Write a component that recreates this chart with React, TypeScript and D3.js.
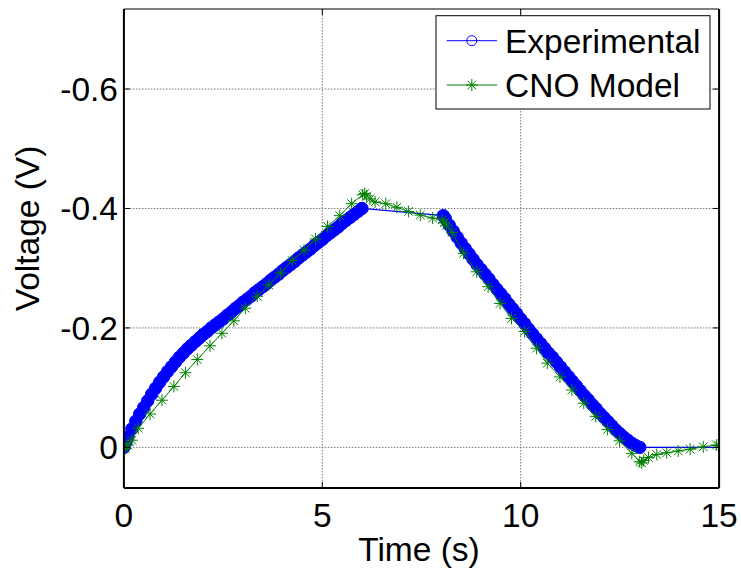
import React from "react";
import * as d3 from "d3";

// ---- Data ----
const expTime = [
  0, 0.05, 0.1, 0.2, 0.3, 0.4, 0.5, 0.6, 0.7, 0.8, 0.9, 1.0,
  1.1, 1.2, 1.3, 1.4, 1.5, 1.6, 1.7, 1.8, 1.9, 2.0,
  2.1, 2.2, 2.3, 2.4, 2.5, 2.6, 2.7, 2.8, 2.9, 3.0,
  3.1, 3.2, 3.3, 3.4, 3.5, 3.6, 3.7, 3.8, 3.9, 4.0,
  4.1, 4.2, 4.3, 4.4, 4.5, 4.6, 4.7, 4.8, 4.9, 5.0,
  5.1, 5.2, 5.3, 5.4, 5.5, 5.6, 5.7, 5.8, 5.9, 6.0,
  8.05, 8.1, 8.2, 8.3, 8.4, 8.5, 8.6, 8.7, 8.8, 8.9, 9.0,
  9.1, 9.2, 9.3, 9.4, 9.5, 9.6, 9.7, 9.8, 9.9, 10.0,
  10.1, 10.2, 10.3, 10.4, 10.5, 10.6, 10.7, 10.8, 10.9, 11.0,
  11.1, 11.2, 11.3, 11.4, 11.5, 11.6, 11.7, 11.8, 11.9, 12.0,
  12.1, 12.2, 12.3, 12.4, 12.5, 12.6, 12.7, 12.8, 12.9, 13.0,
  15.2,
];
const expVoltage = [
  0, -0.009, -0.017, -0.031, -0.044, -0.056, -0.067, -0.078, -0.089, -0.099, -0.109, -0.118,
  -0.127, -0.135, -0.143, -0.151, -0.158, -0.165, -0.171, -0.177, -0.183, -0.189,
  -0.194, -0.2, -0.205, -0.21, -0.215, -0.221, -0.226, -0.232, -0.237, -0.243,
  -0.248, -0.253, -0.259, -0.264, -0.269, -0.274, -0.28, -0.285, -0.29, -0.296,
  -0.301, -0.306, -0.311, -0.317, -0.322, -0.327, -0.332, -0.338, -0.343, -0.348,
  -0.354, -0.359, -0.364, -0.369, -0.375, -0.38, -0.385, -0.39, -0.395, -0.4,
  -0.388, -0.383, -0.372, -0.362, -0.352, -0.342, -0.333, -0.324, -0.315, -0.306, -0.298,
  -0.29, -0.282, -0.273, -0.265, -0.257, -0.249, -0.24, -0.232, -0.224, -0.215,
  -0.207, -0.198, -0.19, -0.182, -0.174, -0.166, -0.158, -0.151, -0.143, -0.135,
  -0.127, -0.119, -0.111, -0.103, -0.095, -0.087, -0.08, -0.072, -0.065, -0.057,
  -0.05, -0.043, -0.036, -0.029, -0.023, -0.017, -0.012, -0.007, -0.003, 0.0,
  0.0,
];

const modelTime = [
  0, 0.03, 0.1, 0.2, 0.36, 0.66, 0.96, 1.26, 1.55, 1.85, 2.17, 2.47, 2.77, 3.06,
  3.36, 3.65, 3.95, 4.24, 4.54, 4.83, 5.13, 5.44, 5.74, 6.02, 6.07, 6.12, 6.2,
  6.33, 6.6, 6.88, 7.17, 7.47, 7.78, 8.02, 8.07, 8.13, 8.27, 8.56, 8.89, 9.18,
  9.48, 9.77, 10.1, 10.4, 10.67, 10.99, 11.29, 11.59, 11.89, 12.19, 12.49, 12.8,
  13.0, 13.05, 13.1, 13.22, 13.43, 13.68, 13.97, 14.27, 14.6, 14.94, 15.0,
];
const modelVoltage = [
  0, 0.002, -0.004, -0.012, -0.032, -0.056, -0.079, -0.102, -0.125, -0.147, -0.17,
  -0.191, -0.212, -0.233, -0.253, -0.272, -0.292, -0.313, -0.33, -0.349, -0.37,
  -0.388, -0.408, -0.423, -0.425, -0.421, -0.416, -0.411, -0.408, -0.402, -0.395,
  -0.389, -0.384, -0.381, -0.376, -0.372, -0.36, -0.325, -0.294, -0.269, -0.241,
  -0.216, -0.194, -0.166, -0.141, -0.118, -0.096, -0.074, -0.052, -0.03, -0.011,
  0.01, 0.024, 0.026, 0.022, 0.017, 0.012, 0.009, 0.006, 0.003, -0.001, -0.004,
  -0.003,
];

const xTicks = [0, 5, 10, 15];
const yTicks = [0, -0.2, -0.4, -0.6];
const yTickLabels = ["0", "-0.2", "-0.4", "-0.6"];
const seriesNames = ["Experimental", "CNO Model"];

// ---- Layout ----
const W = 741;
const H = 569;
const L = 123.9;
const R = 719.1;
const T = 9;
const B = 488;
const FONT = "'Liberation Sans', Arial, Helvetica, sans-serif";
const FS = 33.5;
const BLUE = "#0000ff";
const GREEN = "#008000";

const starPath = "M-6,0H6M0,-6V6M-4.3,-4.3L4.3,4.3M-4.3,4.3L4.3,-4.3";

export default function App() {
  const x = d3.scaleLinear().domain([0, 15]).range([L, R]);
  const y = d3.scaleLinear().domain([0.068, -0.734]).range([B, T]);

  const exp = expTime.map((t, i) => [t, expVoltage[i]] as [number, number]);
  const mod = modelTime.map((t, i) => [t, modelVoltage[i]] as [number, number]);
  const line = d3
    .line<[number, number]>()
    .x((d) => x(d[0]))
    .y((d) => y(d[1]));

  const tickLen = 6;

  return (
    <svg
      width={W}
      height={H}
      style={{ position: "absolute", left: 0, top: 0, background: "#fff" }}
      fontFamily={FONT}
    >
      <rect x={0} y={0} width={W} height={H} fill="#fff" />
      <defs>
        <clipPath id="plotClip">
          <rect x={L} y={T} width={R - L} height={B - T} />
        </clipPath>
      </defs>
      {/* grid */}
      <g stroke="#666" strokeWidth={0.9} strokeDasharray="1.5,1.5">
        {xTicks
          .filter((t) => t > 0 && t < 15)
          .map((t) => (
            <line key={"gx" + t} x1={x(t)} x2={x(t)} y1={T} y2={B} />
          ))}
        {yTicks.map((v) => (
          <line key={"gy" + v} x1={L} x2={R} y1={y(v)} y2={y(v)} />
        ))}
      </g>
      {/* data */}
      <g clipPath="url(#plotClip)">
        <path d={line(exp) || ""} fill="none" stroke={BLUE} strokeWidth={1.2} />
        {exp.map((d, i) => (
          <circle
            key={"e" + i}
            cx={x(d[0])}
            cy={y(d[1])}
            r={6.2}
            fill={BLUE}
            stroke={BLUE}
            strokeWidth={1}
          />
        ))}
        <path d={line(mod) || ""} fill="none" stroke={GREEN} strokeWidth={1} />
        {mod.map((d, i) => (
          <path
            key={"m" + i}
            d={starPath}
            transform={`translate(${x(d[0])},${y(d[1])})`}
            stroke={GREEN}
            strokeWidth={1}
            fill="none"
          />
        ))}
      </g>
      {/* ticks */}
      <g stroke="#000" strokeWidth={1}>
        {xTicks.map((t) => (
          <g key={"tx" + t}>
            <line x1={x(t)} x2={x(t)} y1={B} y2={B - tickLen} />
            <line x1={x(t)} x2={x(t)} y1={T} y2={T + tickLen} />
          </g>
        ))}
        {yTicks.map((v) => (
          <g key={"ty" + v}>
            <line x1={L} x2={L + tickLen} y1={y(v)} y2={y(v)} />
            <line x1={R} x2={R - tickLen} y1={y(v)} y2={y(v)} />
          </g>
        ))}
      </g>
      {/* axes box */}
      <line x1={L} x2={R} y1={T} y2={T} stroke="#000" strokeWidth={1.2} />
      <line x1={L} x2={R} y1={B} y2={B} stroke="#000" strokeWidth={2} />
      <line x1={L} x2={L} y1={T} y2={B} stroke="#000" strokeWidth={2} />
      <line x1={R} x2={R} y1={T} y2={B} stroke="#000" strokeWidth={2} />
      {/* tick labels */}
      <g fontSize={FS} fill="#000">
        {xTicks.map((t) => (
          <text key={"lx" + t} x={x(t)} y={527} textAnchor="middle">
            {String(t)}
          </text>
        ))}
        {yTicks.map((v, i) => (
          <text key={"ly" + v} x={118} y={y(v) + 12} textAnchor="end">
            {yTickLabels[i]}
          </text>
        ))}
      </g>
      {/* axis labels */}
      <text x={419} y={561} fontSize={FS} textAnchor="middle" fill="#000">
        Time (s)
      </text>
      <text
        transform="translate(39,228.5) rotate(-90)"
        fontSize={FS}
        textAnchor="middle"
        fill="#000"
      >
        Voltage (V)
      </text>
      {/* legend */}
      <g>
        <rect x={436} y={15.7} width={274} height={93.3} fill="#fff" stroke="#000" strokeWidth={1} />
        <line x1={446.7} x2={497} y1={40.7} y2={40.7} stroke={BLUE} strokeWidth={1} />
        <circle cx={471.8} cy={40.7} r={5} fill="none" stroke={BLUE} strokeWidth={1} />
        <text x={505} y={40.7 + 12} fontSize={FS} fill="#000">
          {seriesNames[0]}
        </text>
        <line x1={446.7} x2={497} y1={85} y2={85} stroke={GREEN} strokeWidth={1} />
        <path d={starPath} transform="translate(471.8,85)" stroke={GREEN} strokeWidth={1} fill="none" />
        <text x={505} y={85 + 12} fontSize={FS} fill="#000">
          {seriesNames[1]}
        </text>
      </g>
    </svg>
  );
}
